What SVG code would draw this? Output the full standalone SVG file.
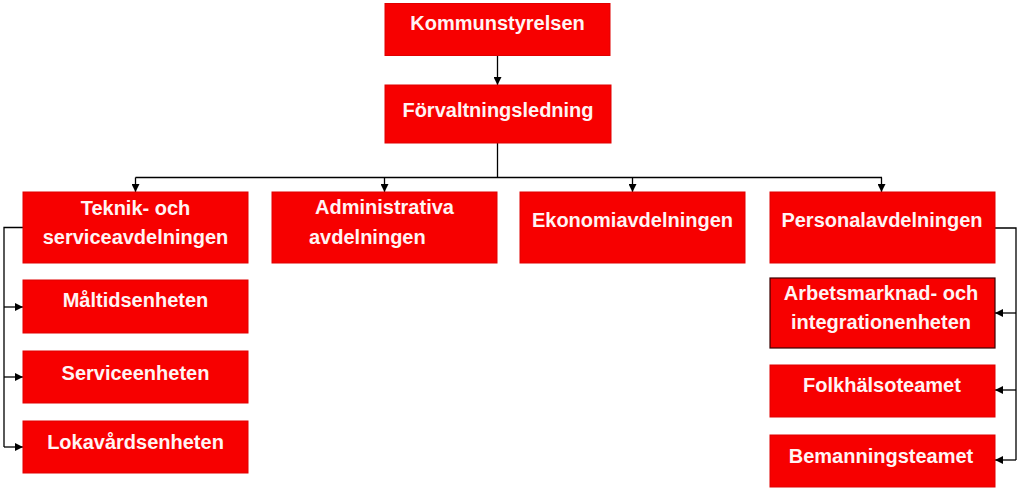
<svg xmlns="http://www.w3.org/2000/svg" width="1018" height="495" viewBox="0 0 1018 495">
<style>
.box{fill:#f70000;stroke:#e00000;stroke-width:1}
.dark{stroke:#3a0000;stroke-width:1.2}
.t{font-family:"Liberation Sans",Arial,sans-serif;font-weight:bold;font-size:20px;fill:#fff4f4;text-anchor:middle}
.c{fill:none;stroke:#000;stroke-width:1.3}
</style>
<defs>
<marker id="a" viewBox="0 0 10 10" refX="10" refY="5" markerWidth="8" markerHeight="8" markerUnits="userSpaceOnUse" orient="auto">
<path d="M0,0 L10,5 L0,10 Z" fill="#000"/>
</marker>
</defs>
<rect width="1018" height="495" fill="#fff"/>
<g id="connectors">
<path class="c" d="M497.5,55 V85" marker-end="url(#a)"/>
<path class="c" d="M497.5,143 V177.5"/>
<path class="c" d="M135.5,177.5 H882"/>
<path class="c" d="M135.5,177.5 V192" marker-end="url(#a)"/>
<path class="c" d="M384.5,177.5 V192" marker-end="url(#a)"/>
<path class="c" d="M632.5,177.5 V192" marker-end="url(#a)"/>
<path class="c" d="M881.5,177.5 V192" marker-end="url(#a)"/>
<path class="c" d="M23,227.5 H4 V447"/>
<path class="c" d="M4,307 H23" marker-end="url(#a)"/>
<path class="c" d="M4,377 H23" marker-end="url(#a)"/>
<path class="c" d="M4,447 H23" marker-end="url(#a)"/>
<path class="c" d="M995,228 H1016 V460"/>
<path class="c" d="M1016,313 H995" marker-end="url(#a)"/>
<path class="c" d="M1016,390 H995" marker-end="url(#a)"/>
<path class="c" d="M1016,460 H995" marker-end="url(#a)"/>
</g>
<g id="kommunstyrelsen">
<rect class="box" x="385" y="3.5" width="225" height="52"/>
<text class="t" x="497.5" y="30">Kommunstyrelsen</text>
</g>
<g id="forvaltningsledning">
<rect class="box" x="385" y="85" width="226" height="58"/>
<text class="t" x="498" y="117">Förvaltningsledning</text>
</g>
<g id="teknik">
<rect class="box" x="23" y="192" width="225" height="71"/>
<text class="t" x="135.5" y="215">Teknik- och</text>
<text class="t" x="135.5" y="244">serviceavdelningen</text>
</g>
<g id="administrativa">
<rect class="box" x="272" y="192" width="225" height="71"/>
<text class="t" x="384.5" y="214">Administrativa</text>
<text class="t" x="309" y="244" style="text-anchor:start">avdelningen</text>
</g>
<g id="ekonomi">
<rect class="box" x="520" y="192" width="225" height="71"/>
<text class="t" x="632.5" y="227">Ekonomiavdelningen</text>
</g>
<g id="personal">
<rect class="box" x="770" y="192" width="225" height="71"/>
<text class="t" x="882" y="227">Personalavdelningen</text>
</g>
<g id="maltid">
<rect class="box" x="23" y="280" width="225" height="53"/>
<text class="t" x="135.5" y="307">Måltidsenheten</text>
</g>
<g id="service">
<rect class="box" x="23" y="351" width="225" height="52"/>
<text class="t" x="135.5" y="380">Serviceenheten</text>
</g>
<g id="lokavard">
<rect class="box" x="23" y="421" width="225" height="52"/>
<text class="t" x="135.5" y="449">Lokavårdsenheten</text>
</g>
<g id="arbetsmarknad">
<rect class="box dark" x="770" y="278" width="225" height="70"/>
<text class="t" x="881" y="300">Arbetsmarknad- och</text>
<text class="t" x="881" y="329">integrationenheten</text>
</g>
<g id="folkhalso">
<rect class="box" x="770" y="365" width="225" height="52"/>
<text class="t" x="882" y="392">Folkhälsoteamet</text>
</g>
<g id="bemanning">
<rect class="box" x="770" y="435" width="225" height="52"/>
<text class="t" x="881" y="463">Bemanningsteamet</text>
</g>
</svg>
